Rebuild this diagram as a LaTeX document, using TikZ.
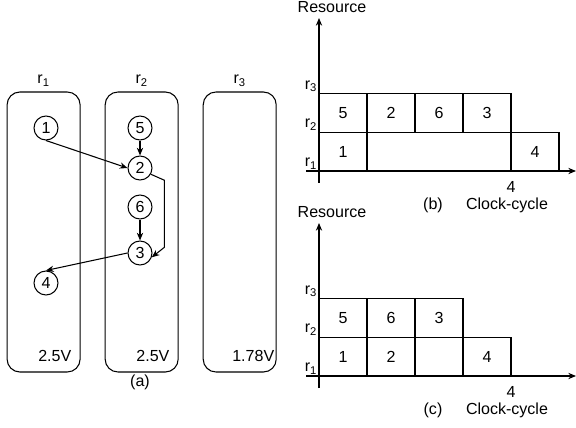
\documentclass[tikz,border=0pt]{standalone}
\usepackage{fontspec}
\setmainfont{Liberation Sans}
\usetikzlibrary{positioning,arrows.meta}

\tikzset{
  rbox/.style={draw, rounded corners=0.32cm, minimum width=1.825cm, minimum height=7cm},
  task/.style={draw, circle, minimum size=0.6cm, inner sep=0pt},
  cell/.style={draw, minimum width=1.2cm, minimum height=0.965cm, inner sep=0pt},
  volt/.style={inner sep=0pt, anchor=base east},
  rlab/.style={anchor=south east, inner sep=1pt},
  dep/.style={-{Stealth[length=5.5pt,width=4.5pt]}},
}

\begin{document}
\begin{tikzpicture}[font=\fontsize{11.4}{13}\selectfont, line width=0.75pt]
    \useasboundingbox (0,0) rectangle (14.4,10.675);
    % Panel (a)
    \node[rbox, label={above:r\textsubscript{1}}] (r1box) at (1.09,4.875) {};
    \node[rbox, right=0.6cm of r1box, label={above:r\textsubscript{2}}] (r2box) {};
    \node[rbox, right=0.6cm of r2box, label={above:r\textsubscript{3}}] (r3box) {};
    \node[task] (n1) at (1.15,7.475) {1};
    \node[task] (n5) at (3.5,7.475) {5};
    \node[task] (n2) at (3.5,6.475) {2};
    \node[task] (n6) at (3.5,5.5) {6};
    \node[task] (n3) at (3.5,4.35) {3};
    \node[task] (n4) at (1.15,3.6) {4};
    \draw[dep] (n1.south) -- (n2.west);
    \draw[dep] (n5) -- (n2);
    \draw[dep] (n6) -- (n3);
    \draw[dep] (n2.-30) -- ++(0.34,-0.15) -- ++(0,-1.675) -- (n3.-20);
    \draw[dep] (n3.west) -- (n4.north);
    \node[volt] (v1) at ([xshift=-0.22cm,yshift=0.275cm]r1box.south east) {2.5V};
    \node[volt] (v2) at ([xshift=-0.22cm,yshift=0.275cm]r2box.south east) {2.5V};
    \node[volt] (v3) at ([xshift=-0.05cm,yshift=0.275cm]r3box.south east) {1.78V};
    \node (capa) at (3.5,1.125) {(a)};
    % Panel (b)
    \begin{scope}[shift={(7.975,6.4)}]
      \draw[dep] (-0.325,0) -- (6.425,0);
      \draw[dep] (0,-0.3) -- (0,3.825);
      \node[cell] (b5) at (0.6,1.4475) {5};
      \node[cell] (b2) at (1.8,1.4475) {2};
      \node[cell] (b6) at (3.0,1.4475) {6};
      \node[cell] (b3) at (4.2,1.4475) {3};
      \node[cell] (b1) at (0.6,0.4825) {1};
      \node[cell, minimum width=3.6cm] (bidle) at (3.0,0.4825) {};
      \node[cell] (b4) at (5.4,0.4825) {4};
      \node[rlab] (br1) at (0,0) {r\textsubscript{1}};
      \node[rlab] (br2) at (0,0.965) {r\textsubscript{2}};
      \node[rlab] (br3) at (0,1.93) {r\textsubscript{3}};
      \node[anchor=base] (bres) at (0.325,3.96) {Resource};
      \node (btick) at (4.8,-0.4) {4};
      \node (bclk) at (4.7,-0.85) {Clock-cycle};
      \node (capb) at (2.85,-0.85) {(b)};
    \end{scope}
    % Panel (c)
    \begin{scope}[shift={(7.975,1.275)}]
      \draw[dep] (-0.325,0) -- (6.425,0);
      \draw[dep] (0,-0.3) -- (0,3.825);
      \node[cell] (c5) at (0.6,1.4475) {5};
      \node[cell] (c6) at (1.8,1.4475) {6};
      \node[cell] (c3) at (3.0,1.4475) {3};
      \node[cell] (c1) at (0.6,0.4825) {1};
      \node[cell] (c2) at (1.8,0.4825) {2};
      \node[cell] (cidle) at (3.0,0.4825) {};
      \node[cell] (c4) at (4.2,0.4825) {4};
      \node[rlab] (cr1) at (0,0) {r\textsubscript{1}};
      \node[rlab] (cr2) at (0,0.965) {r\textsubscript{2}};
      \node[rlab] (cr3) at (0,1.93) {r\textsubscript{3}};
      \node[anchor=base] (cres) at (0.325,3.96) {Resource};
      \node (ctick) at (4.8,-0.4) {4};
      \node (cclk) at (4.7,-0.85) {Clock-cycle};
      \node (capc) at (2.85,-0.85) {(c)};
    \end{scope}
\end{tikzpicture}
\end{document}
